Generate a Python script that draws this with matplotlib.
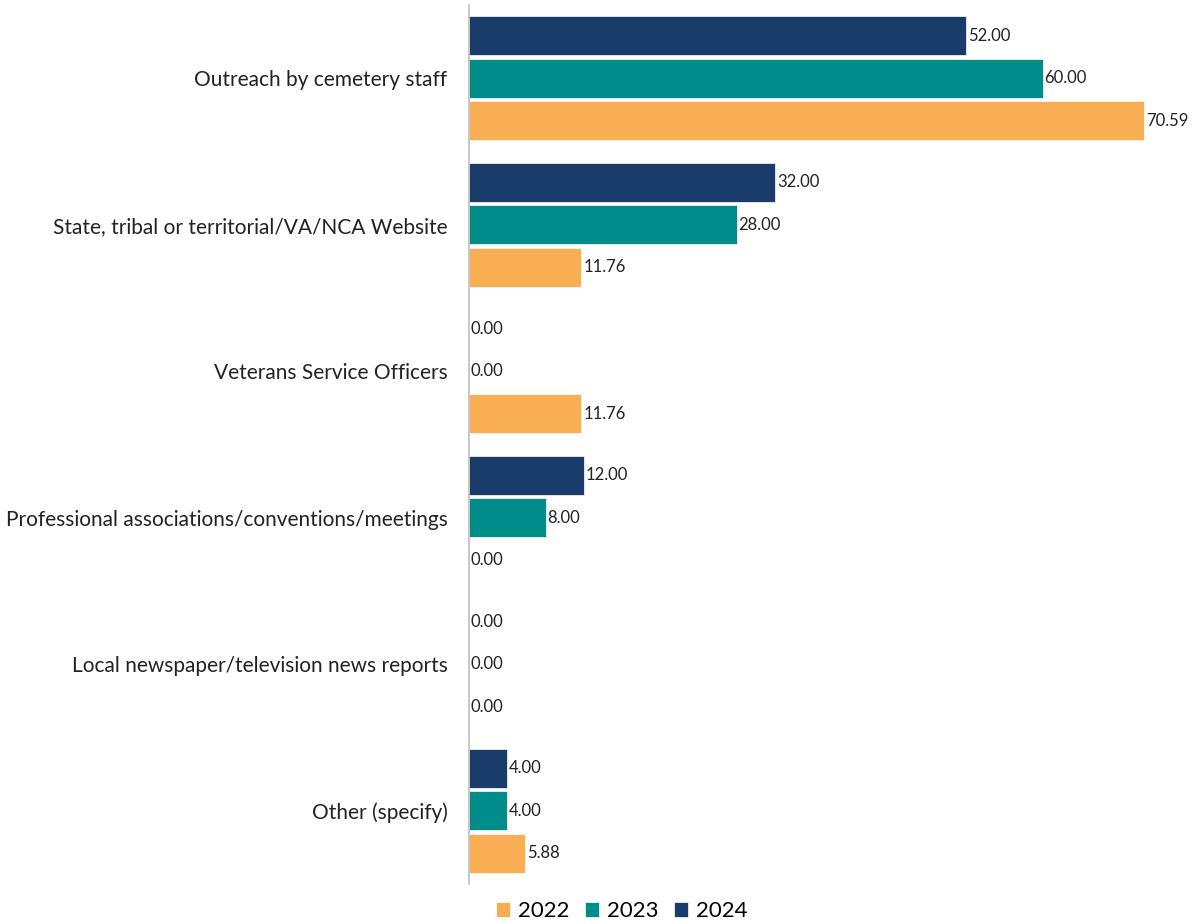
import numpy as np
import matplotlib.pyplot as plt

plt.rcParams['font.family'] = ['Lato', 'DejaVu Sans']

categories = ['Outreach by cemetery staff',
              'State, tribal or territorial/VA/NCA Website',
              'Veterans Service Officers',
              'Professional associations/conventions/meetings',
              'Local newspaper/television news reports',
              'Other (specify)']
years = ['2022', '2023', '2024']
v2022 = [70.59, 11.76, 11.76, 0.00, 0.00, 5.88]
v2023 = [60.00, 28.00, 0.00, 8.00, 0.00, 4.00]
v2024 = [52.00, 32.00, 0.00, 12.00, 0.00, 4.00]
colors = ['#f9ae54', '#008c88', '#1a3c6a']

fig = plt.figure(figsize=(11.98, 9.24), dpi=100)
ax = fig.add_axes([0.3915, 0.0433, 0.6085, 0.9513])

y = np.arange(len(categories))
h = 0.265
off = 0.29
series = [v2022, v2023, v2024]
offsets = [off, 0, -off]
bars = []
for vals, o, c, yr in zip(series, offsets, colors, years):
    b = ax.barh(y + o, vals, height=h, color=c, edgecolor='white', linewidth=0.5, label=yr)
    bars.append(b)
    for yy, v in zip(y + o, vals):
        ax.text(v + 0.2, yy, '%.2f' % v, va='center', ha='left', fontsize=12, color='#222222')

ax.set_ylim(5.5, -0.5)
ax.set_xlim(0, 76.25)
ax.set_yticks(y)
ax.set_yticklabels(categories, fontsize=15, color='#222222')
ax.tick_params(axis='y', length=0, pad=15.5)
ax.set_xticks([])
for s in ['top', 'right', 'bottom']:
    ax.spines[s].set_visible(False)
ax.spines['left'].set_color('#bfbfbf')
ax.spines['left'].set_linewidth(1.2)

fig.legend(handles=bars, labels=years, loc='center', bbox_to_anchor=(0.519, 0.014),
           ncol=3, frameon=False, fontsize=16, handlelength=0.63, handleheight=0.63,
           handletextpad=0.36, columnspacing=0.68)

fig.savefig('out.png', dpi=100)
